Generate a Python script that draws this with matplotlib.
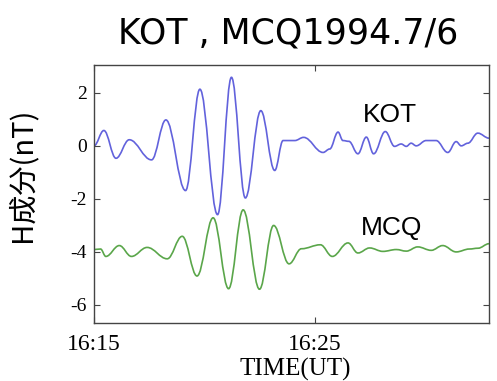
import matplotlib
matplotlib.use('Agg')
import matplotlib.pyplot as plt
from matplotlib.path import Path
from matplotlib.patches import PathPatch

# minutes after 16:15, H component (nT) -- turning points
kot_t = [0.0, 0.45, 1.0, 1.6, 2.61, 3.26, 4.15, 4.8, 5.6, 6.23, 6.86, 7.56, 8.19,
         8.57, 9.1, 9.5, 10.38, 10.68, 11.06, 11.28, 11.55, 11.96, 12.34, 12.67,
         13.2, 13.62, 13.92, 14.15, 14.37, 14.6, 15.05, 15.5, 16.03, 16.41, 16.64,
         16.94, 17.39, 17.9]
kot_h = [0.0, 0.58, -0.47, 0.23, -0.53, 0.98, -1.69, 2.14, -2.6, 2.59, -1.97, 1.33, -0.93,
         0.2, 0.2, 0.32, -0.25, -0.12, 0.52, 0.2, 0.17, -0.3, 0.33, -0.3,
         0.54, -0.02, 0.07, -0.02, 0.1, 0.0, 0.2, 0.2, -0.25, 0.16, 0.0,
         0.1, 0.48, 0.29]

mcq_t = [0.0, 0.3, 0.54, 1.15, 1.7, 2.41, 3.32, 4.0, 4.67, 5.4, 6.1, 6.76, 7.5, 8.14,
         8.84, 9.4, 10.26, 10.8, 11.51, 11.96, 12.49, 13.09, 13.7, 14.15, 14.67,
         15.28, 15.8, 16.41, 17.01, 17.4, 17.9]
mcq_h = [-3.92, -3.9, -4.18, -3.77, -4.18, -3.84, -4.27, -3.42, -4.92, -2.72, -5.4, -2.42, -5.42, -3.01,
         -4.46, -3.89, -3.74, -4.18, -3.67, -4.05, -3.86, -3.99, -3.92, -3.98, -3.82,
         -3.95, -3.77, -4.01, -3.9, -3.87, -3.7]

yticks = [-6, -4, -2, 0, 2]
xticks = [0, 10]
xticklabels = ['16:15', '16:25']


def smooth_line(ax, xs, ys, color):
    # cubic bezier through the turning points, flat tangent at each one
    verts = [(xs[0], ys[0])]
    codes = [Path.MOVETO]
    for i in range(1, len(xs)):
        dx = xs[i] - xs[i - 1]
        verts += [(xs[i - 1] + 0.38 * dx, ys[i - 1]), (xs[i] - 0.38 * dx, ys[i]), (xs[i], ys[i])]
        codes += [Path.CURVE4] * 3
    patch = PathPatch(Path(verts, codes), fill=False, edgecolor=color, lw=1.2,
                      transform=ax.transData, clip_on=True)
    ax.add_patch(patch)


fig = plt.figure(figsize=(4.97, 3.81), dpi=100)
ax = fig.add_axes([0.189, 0.152, 0.795, 0.677])

smooth_line(ax, kot_t, kot_h, '#6262dc')
smooth_line(ax, mcq_t, mcq_h, '#5aa64a')

ax.set_xlim(0, 17.9)
ax.set_ylim(-6.7, 3.05)
ax.set_yticks(yticks)
ax.set_yticklabels([str(v) for v in yticks], family='Liberation Serif', fontsize=14)
ax.set_xticks(xticks)
ax.set_xticklabels(xticklabels, family='Liberation Serif', fontsize=17)
ax.tick_params(direction='in', length=4, width=0.8, color='#444444',
               top=True, right=True)
ax.tick_params(axis='x', pad=8)
ax.tick_params(axis='y', pad=5)
for s in ax.spines.values():
    s.set_color('#444444')
    s.set_linewidth(1.0)

ax.text(13.4, 1.17, 'KOT', family='Liberation Sans', fontsize=19,
        ha='center', va='center')
ax.text(13.5, -3.09, 'MCQ', family='Liberation Sans', fontsize=19,
        ha='center', va='center')

fig.text(0.58, 0.913, 'KOT , MCQ1994.7/6', family='DejaVu Sans', fontsize=25,
         ha='center', va='center')
fig.text(0.045, 0.54, 'H成分(nT)', family=['Noto Sans CJK JP', 'DejaVu Sans'],
         fontsize=21, rotation=90, ha='center', va='center')
fig.text(0.595, 0.031, 'TIME(UT)', family='Liberation Serif', fontsize=18,
         ha='center', va='center')

fig.savefig('out.png', dpi=100, facecolor='white')
